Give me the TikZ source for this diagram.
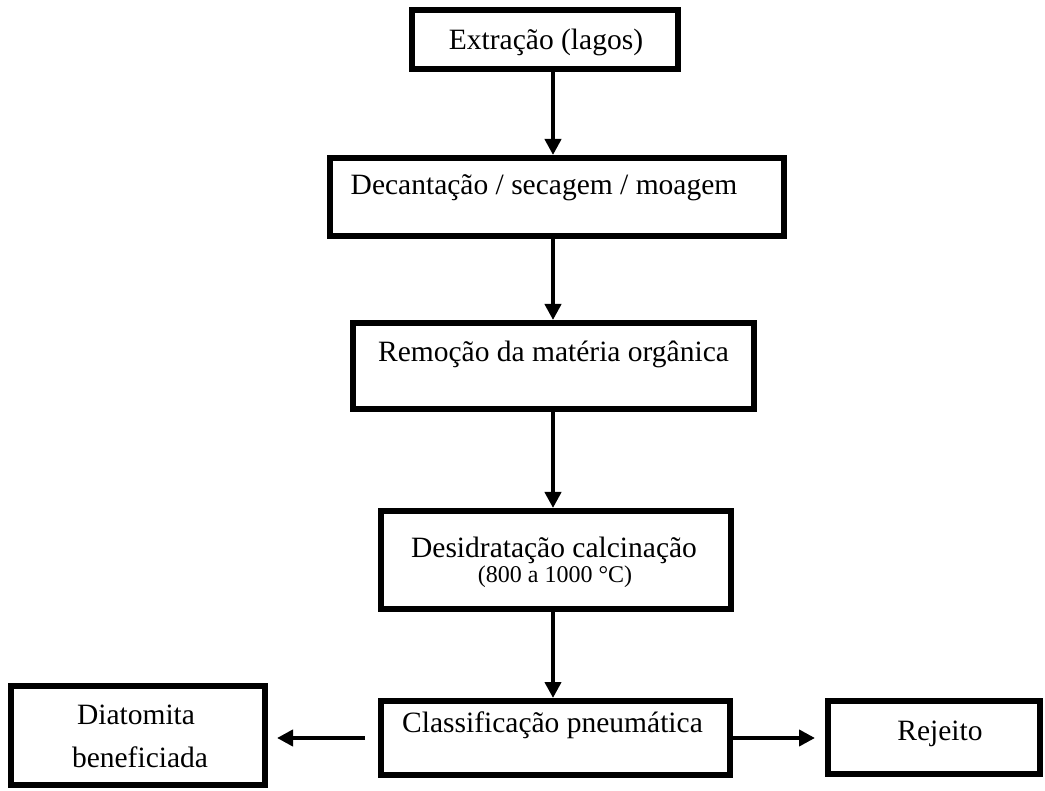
\documentclass[tikz,border=0pt]{standalone}
\usepackage{fontspec}
\setmainfont{Liberation Serif}
\usetikzlibrary{arrows.meta,calc}
\begin{document}
\begin{tikzpicture}[x=1pt,y=-1pt,
  box/.style={draw=black,line width=6pt,rectangle,inner sep=0pt,fill=white},
  txt/.style={anchor=base,inner sep=0pt,font=\fontsize{29.5}{34}\selectfont},
  small/.style={anchor=base,inner sep=0pt,font=\fontsize{24}{28}\selectfont},
  arr/.style={line width=4pt,-{Triangle[width=16pt,length=16pt]}}]
\useasboundingbox[fill=white] (0,0) rectangle (1045,791);
% boxes (border centre lines)
\node[box,minimum width=266pt,minimum height=59pt] (b1) at (545,39.5) {};
\node[box,minimum width=454pt,minimum height=78pt] (b2) at (557,197) {};
\node[box,minimum width=401pt,minimum height=86pt] (b3) at (553.5,366) {};
\node[box,minimum width=350pt,minimum height=98pt] (b4) at (556,560) {};
\node[box,minimum width=349pt,minimum height=74pt] (b5) at (555.5,738) {};
\node[box,minimum width=254pt,minimum height=99pt] (bl) at (138,735.5) {};
\node[box,minimum width=212pt,minimum height=73pt] (br) at (934,737.5) {};
% texts
\node[txt] (t1) at (546,50) {Extração (lagos)};
\node[txt] (t2) at (544,195) {Decantação / secagem / moagem};
\node[txt] (t3) at (553.5,362) {Remoção da matéria orgânica};
\node[txt] (t4a) at (554,558) {Desidratação calcinação};
\node[small] (t4b) at (555,583) {(800 a 1000 °C)};
\node[txt] (t5) at (552.5,732) {Classificação pneumática};
\node[txt] (tl1) at (136,724) {Diatomita};
\node[txt] (tl2) at (140,767) {beneficiada};
\node[txt] (tr) at (940,740) {Rejeito};
% connectors
\coordinate (ax) at (553,0);
\draw[arr] (b1.south -| ax) -- (b2.north -| ax);
\draw[arr] (b2.south -| ax) -- (b3.north -| ax);
\draw[arr] (b3.south -| ax) -- (b4.north -| ax);
\draw[arr] (b4.south -| ax) -- (b5.north -| ax);
\draw[arr,shorten <=13pt,shorten >=9pt] (b5.west) -- (b5.west -| bl.east);
\draw[arr,shorten >=10pt] (b5.east) -- (b5.east -| br.west);
\end{tikzpicture}
\end{document}
